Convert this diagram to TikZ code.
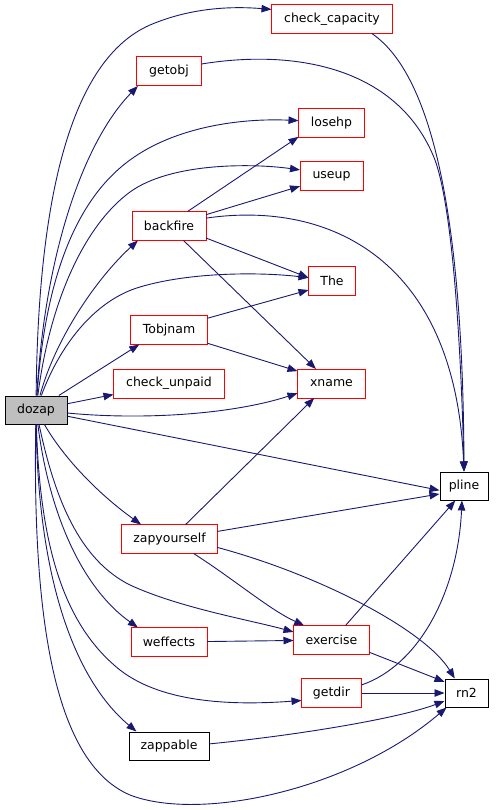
\documentclass[tikz,border=0pt]{standalone}
\usepackage{fontspec}
\setmainfont{DejaVu Sans}
\usetikzlibrary{arrows.meta}
\definecolor{edgeblue}{HTML}{191970}
\definecolor{nodered}{RGB}{255,0,0}
\definecolor{rootgray}{HTML}{BFBFBF}
\begin{document}
\begin{tikzpicture}[x=1pt,y=-1pt,
  box/.style={fill=white, line width=1pt, inner sep=0pt, minimum height=28pt,
    font=\fontsize{12.5}{15}\selectfont, text=black},
  rbox/.style={box},
  kbox/.style={box, draw=black},
  rootbox/.style={box, draw=black, fill=rootgray},
  redborder/.style={draw=nodered, line width=1pt},
  arr/.style={draw=edgeblue, line width=0.9pt, -{Triangle[length=10pt,width=7.5pt]}}]
\useasboundingbox (0,0) rectangle (499,810);
% nodes
\node[rootbox, minimum width=62pt] (dozap) at (36,410) {dozap};
\node[rbox, minimum width=120pt] (cc) at (332,19) {check\_capacity};
\node[rbox, minimum width=64pt] (getobj) at (169,71.5) {getobj};
\node[rbox, minimum width=65pt] (losehp) at (331.5,123.5) {losehp};
\node[rbox, minimum width=62pt] (useup) at (331.5,176) {useup};
\node[rbox, minimum width=73pt] (backfire) at (169,226) {backfire};
\node[rbox, minimum width=46pt] (The) at (332,281) {The};
\node[rbox, minimum width=76pt] (Tobjnam) at (169,330) {Tobjnam};
\node[rbox, minimum width=110pt] (cu) at (169,383.5) {check\_unpaid};
\node[rbox, minimum width=67pt] (xname) at (331.5,383.5) {xname};
\node[kbox, minimum width=48pt] (pline) at (464,486) {pline};
\node[rbox, minimum width=95pt] (zap) at (169.5,539) {zapyourself};
\node[rbox, minimum width=75pt] (exercise) at (331.5,640) {exercise};
\node[rbox, minimum width=75pt] (weffects) at (169,642) {weffects};
\node[rbox, minimum width=59pt] (getdir) at (331.5,693) {getdir};
\node[kbox, minimum width=43pt] (rn2) at (466.5,693) {rn2};
\node[kbox, minimum width=80pt] (zappable) at (169,746) {zappable};
\foreach \n in {cc,getobj,losehp,useup,backfire,The,Tobjnam,cu,xname,zap,exercise,weffects,getdir}
  \draw[redborder] (\n.south west) rectangle (\n.north east);
% edges from dozap
\draw[arr] (dozap) .. controls (38,200) and (70,60) .. (150,25) .. controls (190,8) and (230,6) .. (cc.171);
\draw[arr] (dozap) .. controls (45,250) and (85,140) .. (getobj.-155);
\draw[arr] (dozap) .. controls (45,280) and (75,200) .. (130,160) .. controls (175,127) and (240,118) .. (losehp.175);
\draw[arr] (dozap) .. controls (50,300) and (85,225) .. (130,192) .. controls (170,163) and (250,163) .. (useup.169);
\draw[arr] (dozap) .. controls (55,340) and (95,280) .. (backfire.-155);
\draw[arr] (dozap) .. controls (60,345) and (95,300) .. (140,287) .. controls (190,272) and (260,272) .. (The.172);
\draw[arr] (dozap) -- (Tobjnam.-154);
\draw[arr] (dozap) -- (cu);
\draw[arr] (dozap) .. controls (140,420) and (230,415) .. (xname.-164);
\draw[arr] (dozap) -- (pline.-170);
\draw[arr] (dozap) .. controls (65,460) and (100,495) .. (zap.153);
\draw[arr] (dozap) .. controls (55,500) and (80,560) .. (130,585) .. controls (180,608) and (250,620) .. (exercise.168);
\draw[arr] (dozap) .. controls (50,520) and (85,590) .. (weffects.155);
\draw[arr] (dozap) .. controls (40,560) and (70,630) .. (120,670) .. controls (165,705) and (240,705) .. (getdir.-166);
\draw[arr] (dozap) .. controls (38,580) and (75,680) .. (zappable.156);
\draw[arr] (dozap) .. controls (32,640) and (60,765) .. (130,795) .. controls (200,822) and (350,790) .. (rn2.-144);
% other edges
\draw[arr] (cc.-20) .. controls (440,80) and (463,250) .. (pline.north);
\draw[arr] (getobj.13) .. controls (300,48) and (400,70) .. (435,160) .. controls (455,215) and (462,380) .. (pline.north);
\draw[arr] (backfire.12) .. controls (330,200) and (455,260) .. (pline.north);
\draw[arr] (backfire.38) -- (losehp.-158);
\draw[arr] (backfire.17) -- (useup.-162);
\draw[arr] (backfire.-18) -- (The.172);
\draw[arr] (backfire.-45) -- (xname.137);
\draw[arr] (Tobjnam.17) -- (The.-159);
\draw[arr] (Tobjnam.-19) -- (xname.160);
\draw[arr] (zap.42) -- (xname.-140);
\draw[arr] (zap.9) -- (pline.-162);
\draw[arr] (zap.-31) .. controls (235,580) and (270,610) .. (exercise.152);
\draw[arr] (zap.-10) .. controls (320,575) and (425,630) .. (rn2.129);
\draw[arr] (weffects) -- (exercise);
\draw[arr] (exercise.46) -- (pline.-121);
\draw[arr] (exercise.-18) -- (rn2.153);
\draw[arr] (getdir.15) .. controls (420,665) and (458,590) .. (pline.-98);
\draw[arr] (getdir) -- (rn2);
\draw[arr] (zappable.3) .. controls (300,735) and (400,718) .. (rn2.-160);
\end{tikzpicture}
\end{document}
